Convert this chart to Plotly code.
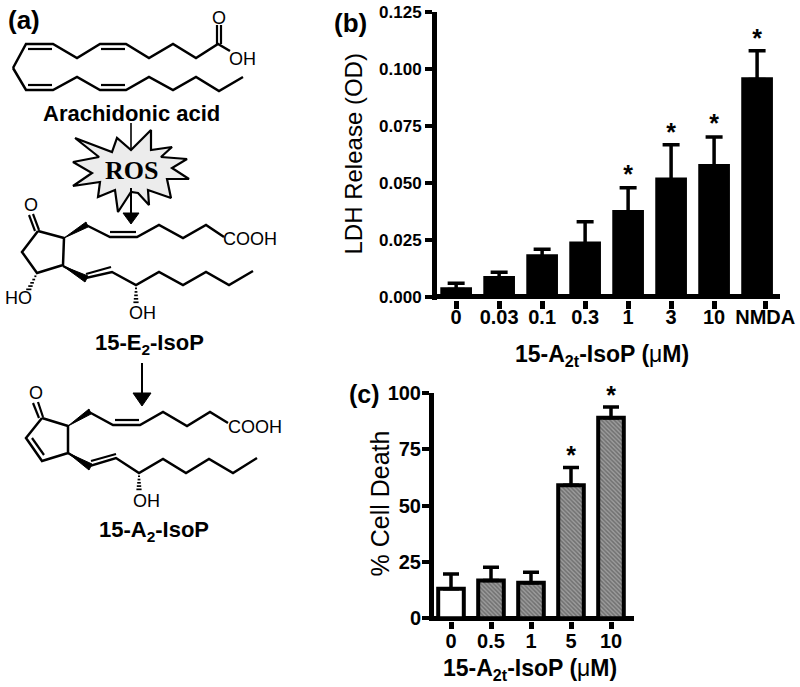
import plotly.graph_objects as go

W, H = 800, 687

# ---------- data ----------
b_positions = [0, 1, 2, 3, 4, 5, 6, 7]
b_tick_positions = [0, 1, 2, 3, 4, 5, 6, 7.19]
b_categories = ["0", "0.03", "0.1", "0.3", "1", "3", "10", "NMDA"]
b_values = [0.00425, 0.0092, 0.0187, 0.0243, 0.0382, 0.0524, 0.0583, 0.0964]
b_error_tops = [0.006, 0.0108, 0.0209, 0.033, 0.0479, 0.0668, 0.0702, 0.108]
b_star_positions = [4, 5, 6, 7]
b_star_levels = [0.0527, 0.0713, 0.0749, 0.1122]
b_ticks = [0, 0.025, 0.05, 0.075, 0.1, 0.125]

c_categories = ["0", "0.5", "1", "5", "10"]
c_values = [13.1, 16.8, 15.8, 59, 88.9]
c_error_tops = [19.6, 22.6, 20.4, 66.8, 93.7]
c_star_categories = ["5", "10"]
c_star_levels = [71.2, 97.8]
c_ticks = [0, 25, 50, 75, 100]
c_patterns = ["", "\\", "\\", "\\", "\\"]
c_colors = ["white", "#9c9c9c", "#9c9c9c", "#9c9c9c", "#9c9c9c"]

# ---------- panel (a) diagram outlines, in picture pixels ----------
aa_top = [(13, 68), (26, 44), (53, 44), (77, 58), (100, 44), (126, 44), (149, 58), (173, 44), (196, 58), (218, 44), (230, 51)]
aa_bottom = [(13, 68), (26, 90), (53, 90), (77, 77), (100, 90), (126, 90), (149, 77), (173, 90), (196, 77), (219, 91), (243, 77)]
aa_bonds = [[(28, 49), (52, 49)], [(101, 49), (125, 49)], [(28, 85), (52, 85)], [(101, 85), (125, 85)],
            [(217, 25), (217, 44)], [(221, 25), (221, 44)]]
e2_ring = [(38, 231), (64, 238), (63, 265), (37, 273), (22, 252), (38, 231)]
e2_upper = [(86, 225), (110, 237), (137, 237), (159, 225), (183, 238), (206, 225), (224, 237)]
e2_lower = [(63, 266), (86, 278), (112, 272), (136, 285), (159, 272), (183, 285), (206, 272), (229, 285), (253, 271)]
e2_bonds = [[(110, 232), (136, 232)], [(86, 274), (111, 267)], [(33, 214), (39, 230)], [(29, 215), (35, 231)]]
a2_ring = [(42, 418), (68, 426), (68, 453), (42, 461), (26, 438), (42, 418)]
a2_upper = [(89, 412), (113, 425), (140, 425), (163, 412), (187, 426), (210, 412), (228, 423)]
a2_lower = [(68, 453), (90, 466), (116, 458), (139, 473), (163, 459), (186, 473), (209, 459), (233, 473), (257, 458)]
a2_bonds = [[(115, 420), (139, 420)], [(91, 461), (116, 454)], [(32, 438), (44, 455)],
            [(38, 402), (43, 417)], [(33, 403), (39, 418)]]
wedges = [[(64, 238), (86, 222), (88, 227)], [(68, 426), (89, 409), (91, 414)],
          [(63, 266), (85, 282), (88, 276)], [(68, 453), (89, 470), (92, 464)]]
hashes = [[(37, 273), (28, 291)], [(136, 285), (136, 304)], [(139, 473), (139, 491)]]
arrow_shafts = [[(131, 123), (131, 150)], [(131, 188), (131, 214)], [(142, 363), (142, 394)]]
arrow_heads = [[(123, 213), (139, 213), (131, 224)], [(133, 393), (151, 393), (142, 406)]]
star_burst = [(75, 138), (112, 152), (117, 138), (131, 150), (151, 130), (151, 150), (172, 147), (161, 157),
              (187, 159), (172, 168), (189, 179), (167, 179), (171, 198), (148, 190), (149, 205), (138, 193),
              (131, 192), (118, 212), (115, 190), (98, 197), (100, 182), (73, 186), (92, 173), (73, 162), (99, 157)]
diagram_labels = [
    ("O", 219, 18, 18, False), ("OH", 242, 59, 18, False), ("O", 31, 205, 18, False),
    ("COOH", 250, 239, 18, False), ("HO", 18, 298, 18, False), ("OH", 142, 313, 18, False),
    ("O", 36, 393, 18, False), ("COOH", 255, 427, 18, False), ("OH", 146, 501, 18, False),
    ("Arachidonic acid", 131, 113, 22, True),
    ("15-E<sub>2</sub>-IsoP", 149, 344, 22, True), ("15-A<sub>2</sub>-IsoP", 154, 531, 22, True),
    ("(a)", 24, 20, 26, True), ("(b)", 350, 23, 26, True), ("(c)", 364, 394, 25, True),
]
MICRO = "<b>15-A<sub>2t</sub>-IsoP (</b>μ<b>M)</b>"

# ---------- figure ----------
fig = go.Figure()
Y_FONT_B = dict(family="Liberation Sans", size=17, color="black", weight=700)
TICK_FONT = dict(family="Liberation Sans", size=20, color="black", weight=700)


def upper(tops, vals):
    return [t - v for t, v in zip(tops, vals)]


fig.add_trace(go.Bar(x=b_positions, y=b_values, width=0.737, marker=dict(color="black", line_width=0),
                     error_y=dict(type="data", symmetric=False, array=upper(b_error_tops, b_values),
                                  arrayminus=[0.001] * len(b_values), color="black", thickness=3.5, width=8.5),
                     xaxis="x", yaxis="y"))
fig.add_trace(go.Scatter(x=b_star_positions, y=b_star_levels, mode="text", text=["*"] * 4,
                         textposition="middle center", cliponaxis=False,
                         textfont=dict(family="Liberation Sans", size=25, color="black", weight=700),
                         xaxis="x", yaxis="y"))
fig.add_trace(go.Bar(x=c_categories, y=c_values, width=0.64,
                     marker=dict(color=c_colors, line=dict(color="black", width=4),
                                 pattern=dict(shape=c_patterns, size=3, solidity=0.5, fgcolor="#303030",
                                              bgcolor=c_colors)),
                     error_y=dict(type="data", symmetric=False, array=upper(c_error_tops, c_values),
                                  arrayminus=[0] * len(c_values), color="black", thickness=3.5, width=8),
                     xaxis="x2", yaxis="y2"))
fig.add_trace(go.Scatter(x=c_star_categories, y=c_star_levels, mode="text", text=["*"] * 2,
                         textposition="middle center", cliponaxis=False,
                         textfont=dict(family="Liberation Sans", size=25, color="black", weight=700),
                         xaxis="x2", yaxis="y2"))


def draw(points, width=2.5, color="black", fill=None):
    xs, ys = zip(*points)
    fig.add_trace(go.Scatter(x=xs, y=ys, mode="lines", line=dict(color=color, width=width),
                             fill="toself" if fill else None, fillcolor=fill,
                             xaxis="x3", yaxis="y3", cliponaxis=False, hoverinfo="skip"))


for path in [aa_top, aa_bottom, e2_ring, e2_upper, e2_lower, a2_ring, a2_upper, a2_lower]:
    draw(path)
for seg in aa_bonds + e2_bonds + a2_bonds:
    draw(seg, 2.2)
for wedge in wedges:
    draw(wedge + wedge[:1], 1, fill="black")
for (x0, y0), (x1, y1) in hashes:
    n = 5
    for i in range(1, n + 1):
        t = i / (n + 0.5)
        half = 0.6 + 2.2 * t
        px, py = x0 + (x1 - x0) * t, y0 + (y1 - y0) * t
        draw([(px - half, py), (px + half, py)], 1.7)
draw(arrow_shafts[0], 1.6)
draw(star_burst + star_burst[:1], 2.2, fill="#ececec")
draw(arrow_shafts[1], 2)
draw(arrow_shafts[2], 2)
for head in arrow_heads:
    draw(head + head[:1], 1, fill="black")

annotations = [
    dict(x=x, y=y, xref="x3", yref="y3", text=f"<b>{t}</b>" if bold else t, showarrow=False,
         font=dict(family="Liberation Sans", size=size, color="black"), xanchor="center", yanchor="middle")
    for t, x, y, size, bold in diagram_labels
]
annotations.append(dict(x=131, y=170, xref="x3", yref="y3", text="<b>ROS</b>", showarrow=False,
                        font=dict(family="Liberation Serif", size=26, color="black")))
for text, x, y, size, angle in [
    (MICRO, 602, 355, 23, 0),
    (MICRO, 530, 669, 23, 0),
    ("LDH Release (OD)", 353, 154.5, 24, -90),
    ("% Cell Death", 379.5, 504, 25, -90),
]:
    annotations.append(dict(x=x, y=y, xref="x3", yref="y3", text=text, showarrow=False, textangle=angle,
                            font=dict(family="Liberation Sans", size=size, color="black"),
                            xanchor="center", yanchor="middle"))

common = dict(ticks="outside", tickcolor="black", showgrid=False, automargin=False)
common_x = dict(showline=False, zeroline=False, tickwidth=5, tickfont=TICK_FONT, tickangle=0, **common)
common_y = dict(showline=True, linecolor="black", linewidth=5, tickwidth=4, zeroline=True,
                zerolinecolor="black", zerolinewidth=5, **common)

fig.update_layout(
    width=W, height=H, margin=dict(l=0, r=0, t=0, b=0), autosize=False,
    paper_bgcolor="white", plot_bgcolor="rgba(0,0,0,0)", showlegend=False, annotations=annotations,
    xaxis=dict(domain=[436.5 / W, 780 / W], anchor="y", range=[-0.457, 7.533], tickvals=b_tick_positions,
               ticktext=b_categories, ticklen=8, ticklabelstandoff=-9, **common_x),
    yaxis=dict(domain=[1 - 299.5 / H, 1 - 12 / H], anchor="x", range=[-0.0011, 0.125], tickvals=b_ticks,
               tickformat=".3f", ticklen=6.5, tickfont=Y_FONT_B, **common_y),
    xaxis2=dict(domain=[434 / W, 634 / W], anchor="y2", type="category", range=[-0.425, 4.575],
                categoryorder="array", categoryarray=c_categories, ticklen=7, ticklabelstandoff=-5, **common_x),
    yaxis2=dict(domain=[1 - 620.8 / H, 1 - 392.7 / H], anchor="x2", range=[-1.1, 100], tickvals=c_ticks, ticklen=7,
                tickfont=TICK_FONT, ticklabelstandoff=-3, **common_y),
    xaxis3=dict(domain=[0, 1], anchor="y3", range=[0, W], visible=False, fixedrange=True, automargin=False),
    yaxis3=dict(domain=[0, 1], anchor="x3", range=[H, 0], visible=False, fixedrange=True, automargin=False),
)

fig.write_html("out.html", config=dict(displayModeBar=False),
               post_script="document.body.style.margin='0';document.documentElement.style.overflow='hidden';")
